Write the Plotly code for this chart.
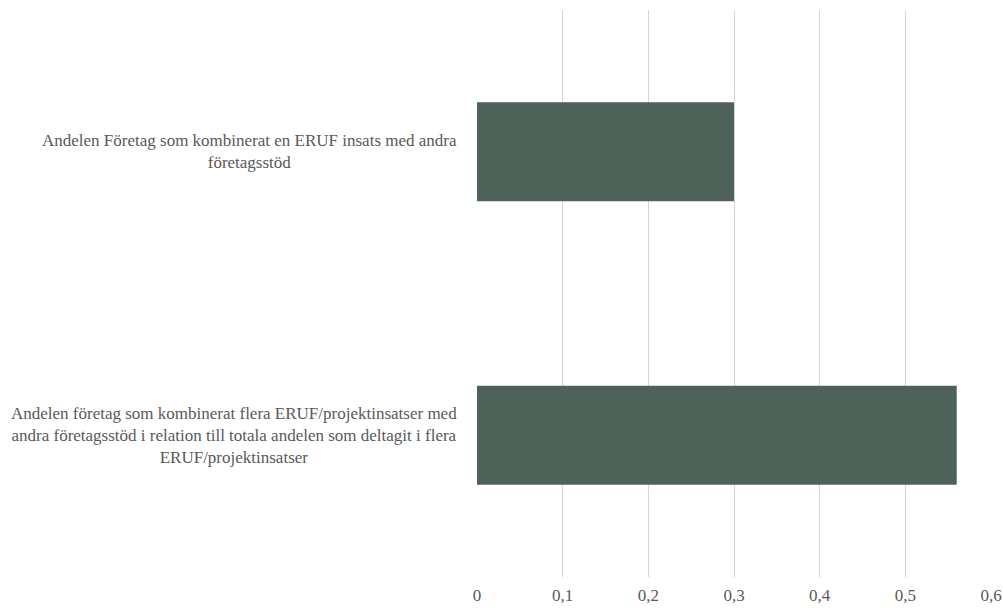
import plotly.graph_objects as go

categories = [
    "Andelen Företag som kombinerat en ERUF insats med andra<br>företagsstöd",
    "Andelen företag som kombinerat flera ERUF/projektinsatser med<br>andra företagsstöd i relation till totala andelen som deltagit i flera<br>ERUF/projektinsatser",
]
values = [0.30, 0.56]
tick_vals = [0, 0.1, 0.2, 0.3, 0.4, 0.5, 0.6]
tick_text = ["0", "0,1", "0,2", "0,3", "0,4", "0,5", "0,6"]

FONT = "Liberation Serif"
GREY = "#595959"

fig = go.Figure()
fig.add_trace(go.Bar(
    x=values, y=categories, orientation="h",
    marker=dict(color="#4E6259", line=dict(width=0)),
    hoverinfo="x",
))

for c in categories:
    fig.add_annotation(
        x=0, xref="paper", y=c, yref="y",
        text=c, showarrow=False, xanchor="right", align="center",
        xshift=-18, font=dict(family=FONT, size=17, color=GREY),
    )

fig.update_layout(
    width=1003, height=608,
    margin=dict(l=477, r=12, t=10, b=31, autoexpand=False),
    paper_bgcolor="white", plot_bgcolor="white",
    bargap=0.65, showlegend=False,
    font=dict(family=FONT, size=17, color=GREY),
)
fig.update_xaxes(
    range=[0, 0.6], tickvals=tick_vals, ticktext=tick_text,
    showgrid=True, gridcolor="#D4D4D4", gridwidth=1.3,
    zeroline=False, showline=False, ticks="", ticklabelstandoff=6,
    tickfont=dict(family=FONT, size=17, color=GREY),
)
fig.update_yaxes(
    autorange="reversed", showticklabels=False, showgrid=False,
    zeroline=False, showline=False, ticks="",
)

fig.write_html(
    "out.html",
    config={"displayModeBar": False},
    post_script="document.body.style.margin='0';document.body.style.overflow='hidden';",
)
